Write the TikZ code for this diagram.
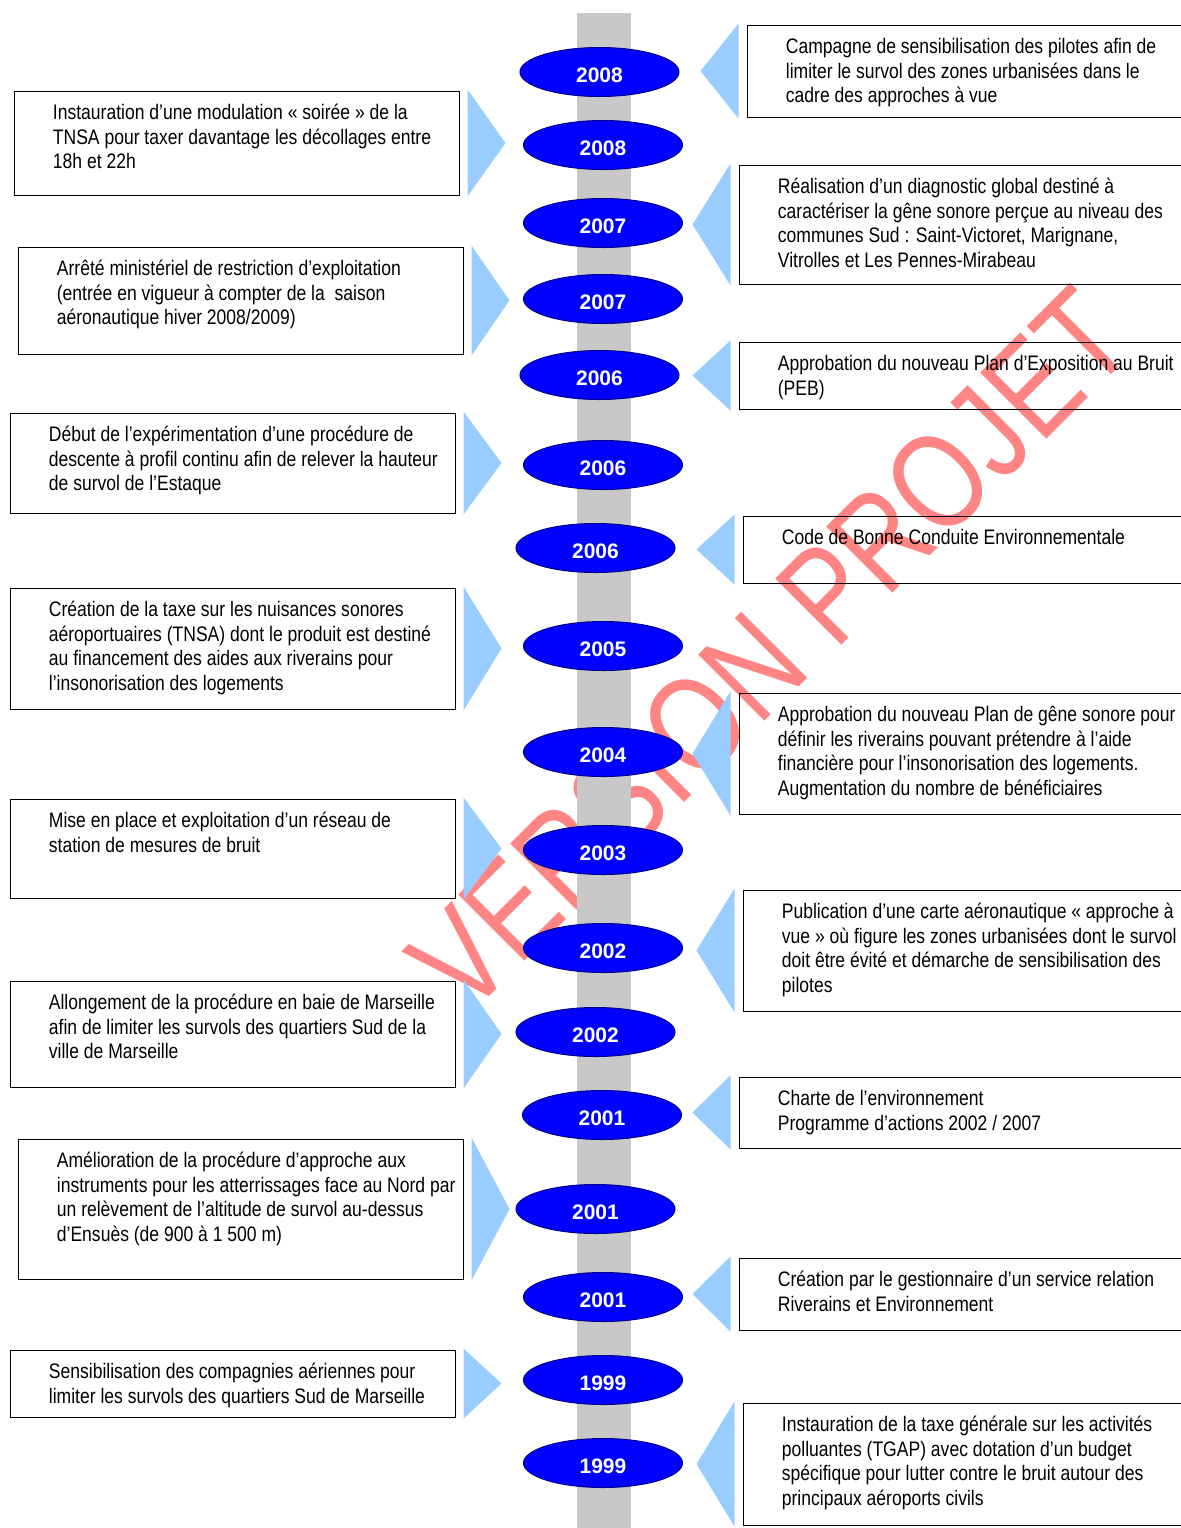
\documentclass[tikz,border=0pt]{standalone}
\usepackage{fontspec}
\setmainfont{Liberation Sans}[FakeStretch=0.835]
\newfontfamily\yearfont{Liberation Sans}
\newfontfamily\stampfont{Liberation Sans}[FakeStretch=0.80]
\usetikzlibrary{shapes.geometric,fit}
\definecolor{yearblue}{HTML}{0000FF}
\definecolor{yearedge}{HTML}{00008B}
\definecolor{pointerblue}{HTML}{99CCFF}
\definecolor{railgray}{HTML}{C8C8C8}
\tikzset{
  evbox/.style={draw, line width=0.5pt, inner sep=0pt},
  evtext/.style={anchor=north west, align=left, inner sep=0pt, font=\fontsize{10.5}{12.25}\selectfont},
  year/.style={ellipse, fill=yearblue, draw=yearedge, line width=0.5pt, minimum width=79.5pt, minimum height=24.5pt,
    inner sep=0pt, text=white, font=\yearfont\bfseries\fontsize{10.5}{12}\selectfont, text height=10.5pt, text depth=0pt},
  pointer/.style={fill=pointerblue},
  stamp/.style={text=red!48, font=\stampfont\fontsize{68}{70}\selectfont, inner sep=0pt, rotate=45}
}
\begin{document}
\begin{tikzpicture}[x=0.5pt, y=-0.5pt]
\useasboundingbox (0,0) rectangle (1181,1528);
\node[stamp] (wm) at (770,650) {VERSION PROJET};
\fill[railgray] (577,13) rectangle (631,1528);
\foreach \n/\xa/\ya/\xb/\yb/\txt in {
  l1/14/91/459/195/{Instauration d’une modulation « soirée » de la\\TNSA pour taxer davantage les décollages entre\\18h et 22h},
  l2/18/247/463/354/{Arrêté ministériel de restriction d’exploitation\\(entrée en vigueur à compter de la \ saison\\aéronautique hiver 2008/2009)},
  l3/10/413/455/513/{Début de l’expérimentation d’une procédure de\\descente à profil continu afin de relever la hauteur\\de survol de l’Estaque},
  l4/10/588/455/709/{Création de la taxe sur les nuisances sonores\\aéroportuaires (TNSA) dont le produit est destiné\\au financement des aides aux riverains pour\\l’insonorisation des logements},
  l5/10/799/455/898/{Mise en place et exploitation d’un réseau de\\station de mesures de bruit},
  l6/10/981/455/1087/{Allongement de la procédure en baie de Marseille\\afin de limiter les survols des quartiers Sud de la\\ville de Marseille},
  l7/18/1139/463/1279/{Amélioration de la procédure d’approche aux\\instruments pour les atterrissages face au Nord par\\un relèvement de l’altitude de survol au-dessus\\d’Ensuès (de 900 à 1 500 m)},
  l8/10/1350/455/1417/{Sensibilisation des compagnies aériennes pour\\limiter les survols des quartiers Sud de Marseille}}
{
  \node[evbox, fit={(\xa,\ya) (\xb,\yb)}] (\n) {};
  \node[evtext] (t\n) at ([shift={(39,13.5)}]\n.north west) {\txt};
  \fill[pointer] ([shift={(8,-1)}]\n.north east) -- ([shift={(46,0)}]\n.east) -- ([shift={(8,1)}]\n.south east) -- cycle;
}
\foreach \n/\xa/\ya/\xb/\yb/\txt in {
  r1/747/25/1190/117/{Campagne de sensibilisation des pilotes afin de\\limiter le survol des zones urbanisées dans le\\cadre des approches à vue},
  r2/739/165/1190/284/{Réalisation d’un diagnostic global destiné à\\caractériser la gêne sonore perçue au niveau des\\communes Sud : Saint-Victoret, Marignane,\\Vitrolles et Les Pennes-Mirabeau},
  r3/739/342/1190/409/{Approbation du nouveau Plan d’Exposition au Bruit\\(PEB)},
  r4/743/516/1190/583/{Code de Bonne Conduite Environnementale},
  r5/739/693/1190/814/{Approbation du nouveau Plan de gêne sonore pour\\définir les riverains pouvant prétendre à l’aide\\financière pour l’insonorisation des logements.\\Augmentation du nombre de bénéficiaires},
  r6/743/890/1190/1011/{Publication d’une carte aéronautique « approche à\\vue » où figure les zones urbanisées dont le survol\\doit être évité et démarche de sensibilisation des\\pilotes},
  r7/739/1077/1190/1148/{Charte de l’environnement\\Programme d’actions 2002 / 2007},
  r8/739/1258/1190/1330/{Création par le gestionnaire d’un service relation\\Riverains et Environnement},
  r9/743/1403/1190/1525/{Instauration de la taxe générale sur les activités\\polluantes (TGAP) avec dotation d’un budget\\spécifique pour lutter contre le bruit autour des\\principaux aéroports civils}}
{
  \node[evbox, fit={(\xa,\ya) (\xb,\yb)}] (\n) {};
  \node[evtext] (t\n) at ([shift={(39,13.5)}]\n.north west) {\txt};
  \fill[pointer] ([shift={(-8,-1)}]\n.north west) -- ([shift={(-46,0)}]\n.west) -- ([shift={(-8,1)}]\n.south west) -- cycle;
}
\foreach \n/\x/\y/\yr in {1/599.5/72/2008, 2/603/145/2008, 3/603/223/2007, 4/603/299/2007, 5/599.5/375/2006,
  6/603/465/2006, 7/595.5/548/2006, 8/603/646/2005, 9/603/752/2004, 10/603/850/2003, 11/603/948/2002,
  12/595.5/1032/2002, 13/602/1115/2001, 14/595.5/1209/2001, 15/603/1297/2001, 16/603/1380/1999, 17/603/1463/1999}
  \node[year] (y\n) at (\x,\y) {\yr};
\end{tikzpicture}
\end{document}
